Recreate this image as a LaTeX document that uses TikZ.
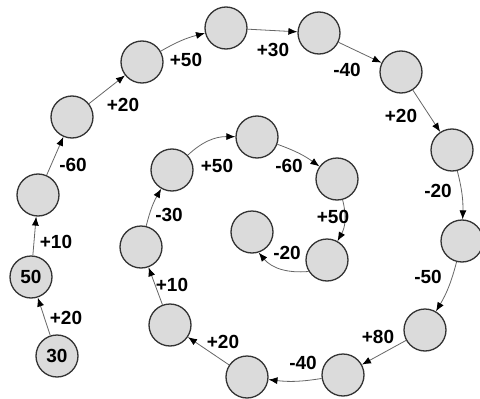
\documentclass[tikz,border=0pt]{standalone}
\usepackage{fontspec}
\setmainfont{Liberation Sans}
\usetikzlibrary{arrows.meta}
\begin{document}
\begin{tikzpicture}[x=1pt,y=-1pt,
  ball/.style={circle,draw=black!80,line width=1.3pt,fill=black!14,minimum size=42pt,inner sep=0pt,font=\fontsize{19}{22}\selectfont\bfseries},
  lbl/.style={font=\fontsize{19}{22}\selectfont\bfseries,inner sep=0pt},
  conn/.style={draw=black!60,line width=0.8pt,-{Latex[length=9pt,width=7pt,color=black]}},
  bo/.style={conn,bend left=8},
  bi/.style={conn,bend left=22}]
\useasboundingbox (0,0) rectangle (480,399);
% nodes
\node[ball] (n1) at (57,356) {30};
\node[ball] (n2) at (31,277) {50};
\node[ball] (n3) at (38,195) {};
\node[ball] (n4) at (72,117) {};
\node[ball] (n5) at (142,62) {};
\node[ball] (n6) at (226,28) {};
\node[ball] (n7) at (319,33) {};
\node[ball] (n8) at (401,72) {};
\node[ball] (n9) at (452,150) {};
\node[ball] (n10) at (462,241) {};
\node[ball] (n11) at (425,330) {};
\node[ball] (n12) at (343,375) {};
\node[ball] (n13) at (247,377) {};
\node[ball] (n14) at (170,325) {};
\node[ball] (n15) at (141,247) {};
\node[ball] (n16) at (172,170) {};
\node[ball] (n17) at (257,137) {};
\node[ball] (n18) at (337,179) {};
\node[ball] (n19) at (327,260) {};
\node[ball] (n20) at (252,232) {};
% connectors
\draw[conn] (n1) -- (n2);
\draw[conn] (n2) -- (n3);
\draw[conn] (n3) -- (n4);
\draw[conn] (n4) -- (n5);
\draw[bo] (n5) to (n6);
\draw[conn] (n6) -- (n7);
\draw[conn] (n7) -- (n8);
\draw[conn] (n8) -- (n9);
\draw[bo] (n9) to (n10);
\draw[bo] (n10) to (n11);
\draw[conn] (n11) -- (n12);
\draw[bo] (n12) to (n13);
\draw[conn] (n13) -- (n14);
\draw[conn] (n14) -- (n15);
\draw[bo] (n15) to (n16);
\draw[bi] (n16) to (n17);
\draw[bo] (n17) to (n18);
\draw[bi] (n18) to (n19);
\draw[conn] (n19.212) to[out=185,in=-50] (n20.-72);
% labels
\node[lbl] (l1) at (66,318) {+20};
\node[lbl] (l2) at (56,242) {+10};
\node[lbl] (l3) at (73,165) {-60};
\node[lbl] (l4) at (123,105) {+20};
\node[lbl] (l5) at (186,60) {+50};
\node[lbl] (l6) at (273,50) {+30};
\node[lbl] (l7) at (347,70) {-40};
\node[lbl] (l8) at (401,116) {+20};
\node[lbl] (l9) at (438,191) {-20};
\node[lbl] (l10) at (428,277) {-50};
\node[lbl] (l11) at (378,337) {+80};
\node[lbl] (l12) at (303,363) {-40};
\node[lbl] (l13) at (223,342) {+20};
\node[lbl] (l14) at (172,285) {+10};
\node[lbl] (l15) at (169,215) {-30};
\node[lbl] (l16) at (217,166) {+50};
\node[lbl] (l17) at (289,166) {-60};
\node[lbl] (l18) at (333,217) {+50};
\node[lbl] (l19) at (287,253) {-20};
\end{tikzpicture}
\end{document}
